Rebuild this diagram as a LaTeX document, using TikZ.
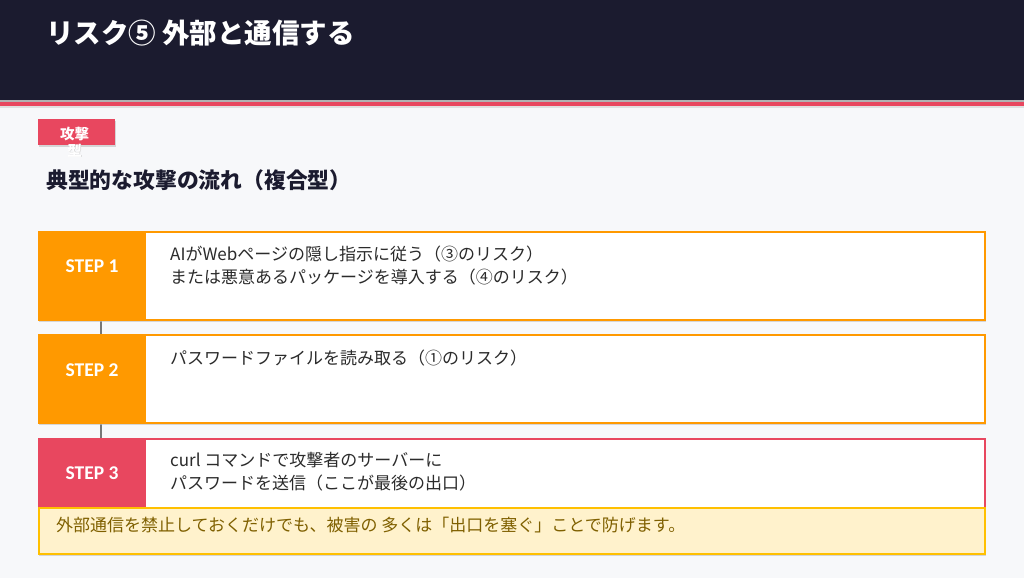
\documentclass[tikz,border=0pt]{standalone}
\usepackage{fontspec}
\setmainfont{Noto Sans CJK JP}
\newfontfamily\stepf{Carlito}
\definecolor{navy}{HTML}{1B1B2F}
\definecolor{rosered}{HTML}{E8475F}
\definecolor{orng}{HTML}{FF9900}
\definecolor{bgc}{HTML}{F7F8FA}
\definecolor{notefill}{HTML}{FFF2CC}
\definecolor{noteline}{HTML}{FFC000}
\definecolor{notetext}{HTML}{7F6000}
\definecolor{desc}{HTML}{2B2B2B}
\definecolor{conn}{HTML}{777777}
\tikzset{
  shadowbox/.style={fill=black!25, opacity=0.6, draw=none},
  steptext/.style={text=white, font=\stepf\bfseries\fontsize{19.5}{22}\selectfont, anchor=center},
  desctext/.style={text=desc, font=\fontsize{17}{23}\selectfont, anchor=west, align=left, inner sep=0pt},
}
\begin{document}
\begin{tikzpicture}[x=1pt,y=-1pt]
\useasboundingbox (0,0) rectangle (1024,578);
\fill[bgc] (0,0) rectangle (1024,578);
% header
\fill[navy] (0,0) rectangle (1024,100);
\fill[black!30] (0,100) rectangle (1024,101.5);
\fill[rosered] (0,101.5) rectangle (1024,106);
\fill[black!12] (0,106) rectangle (1024,108);
\node[anchor=west, text=white, font=\bfseries\fontsize{27.5}{32}\selectfont, inner sep=0pt] (title) at (46,33) {リスク⑤ 外部と通信する};
% tag
\fill[shadowbox] (39,121) rectangle (116,147);
\node[fill=rosered, minimum width=77pt, minimum height=26pt, inner sep=0pt, anchor=north west] (tag) at (38,119) {};
\node[text=black!22, font=\bfseries\fontsize{14.5}{17}\selectfont, align=center, inner sep=0pt] (tagshadow) at (75,142.3) {\phantom{攻撃}\\型};
\node[text=white, font=\bfseries\fontsize{14.5}{17}\selectfont, align=center, inner sep=0pt] (tagtext) at (74.5,141.8) {攻撃\\型};
% heading
\node[anchor=west, text=navy, font=\bfseries\fontsize{21.8}{26}\selectfont, inner sep=0pt] (head) at (46,180) {典型的な攻撃の流れ（複合型）};
% connectors
\coordinate (c1a) at (101,319);
\coordinate (c1b) at (101,334);
\coordinate (c2a) at (101,422);
\coordinate (c2b) at (101,438);
\draw[conn, line width=1.5pt] (c1a) -- (c1b);
\draw[conn, line width=1.5pt] (c2a) -- (c2b);
% step 1
\fill[shadowbox] (39,233) rectangle (986,322);
\node[draw=orng, line width=1.8pt, fill=white, minimum width=946pt, minimum height=88pt, inner sep=0pt, anchor=north west] (s1) at (38,231) {};
\fill[orng] (38,231) rectangle (146,319);
\node[steptext] (s1l) at (92,266.5) {STEP 1};
\node[desctext] (s1t) at (170,265.5) {AIがWebページの隠し指示に従う（③のリスク）\\または悪意あるパッケージを導入する（④のリスク）};
% step 2
\fill[shadowbox] (39,336) rectangle (986,425);
\node[draw=orng, line width=1.8pt, fill=white, minimum width=946pt, minimum height=88pt, inner sep=0pt, anchor=north west] (s2) at (38,334) {};
\fill[orng] (38,334) rectangle (146,422);
\node[steptext] (s2l) at (92,370) {STEP 2};
\node[desctext] (s2t) at (170,358.5) {パスワードファイルを読み取る（①のリスク）};
% step 3
\fill[shadowbox] (39,440) rectangle (986,529);
\node[draw=rosered, line width=1.8pt, fill=white, minimum width=946pt, minimum height=88pt, inner sep=0pt, anchor=north west] (s3) at (38,438) {};
\fill[rosered] (38,438) rectangle (146,526);
\node[steptext] (s3l) at (92,473.5) {STEP 3};
\node[desctext] (s3t) at (170,471.5) {curl コマンドで攻撃者のサーバーに\\パスワードを送信（ここが最後の出口）};
% note
\fill[shadowbox] (39,509) rectangle (986,556);
\node[draw=noteline, line width=1.8pt, fill=notefill, minimum width=946pt, minimum height=46pt, inner sep=0pt, anchor=north west] (note) at (38,507) {};
\node[anchor=west, text=notetext, font=\fontsize{17}{20}\selectfont, inner sep=0pt] (notetext) at (56,525) {外部通信を禁止しておくだけでも、被害の 多くは「出口を塞ぐ」ことで防げます。};
\end{tikzpicture}
\end{document}
